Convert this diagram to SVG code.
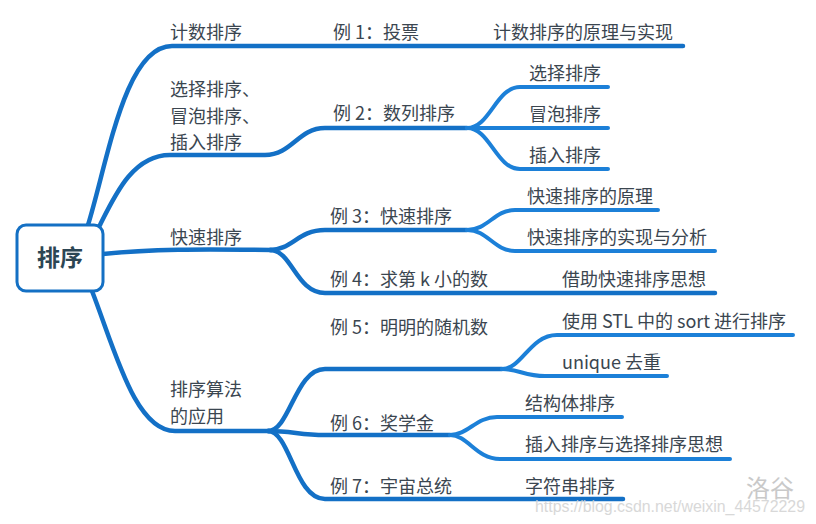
<svg xmlns="http://www.w3.org/2000/svg" width="816" height="524" viewBox="0 0 816 524">
<style>
  .main{fill:none;stroke:#1370c6;stroke-width:4.5;stroke-linecap:round;stroke-linejoin:round}
  .sub{fill:none;stroke:#1c80d8;stroke-width:4;stroke-linecap:round;stroke-linejoin:round}
  .t{font-family:"Noto Sans CJK SC","Noto Sans",sans-serif;font-size:18px;fill:#3b4650}
  .root{font-family:"Noto Sans CJK SC","Noto Sans",sans-serif;font-size:23px;font-weight:bold;fill:#2c4654}
  .wm{font-family:"Noto Sans CJK SC",sans-serif;font-size:24px;fill:#c9c9c9}
  .url{font-family:"Liberation Sans",Arial,sans-serif;font-size:16px;fill:#d2d2d2;opacity:0.85}
</style>
<rect width="816" height="524" fill="#ffffff"/>

<g id="connectors">
  <path class="main" d="M88,225 C108,160 125,46 172,46 L683,46"/>
  <path class="main" d="M100,225 C115,195 133,155 170,155 L265,155 C292,155 298,128 325,128 L467,128"/>
  <path class="main" d="M103,254 C150,249 200,249 272,250"/>
  <path class="main" d="M92,291 C115,350 135,431 175,431 L270,431"/>
  <path class="main" d="M270,250 C292,250 298,230 325,230 L467,230"/>
  <path class="main" d="M270,250 C292,250 296,293 325,293 L715,293"/>
  <path class="main" d="M268,431 C290,431 295,369 325,369 L502,369"/>
  <path class="main" d="M268,431 C292,431 300,435 325,435 L450,435"/>
  <path class="main" d="M268,431 C290,431 295,499 325,499 L623,499"/>
  <path class="sub" d="M467,128 C490,128 496,87 520,87 L608,87"/>
  <path class="sub" d="M467,128 L608,128"/>
  <path class="sub" d="M467,128 C490,128 496,169 520,169 L608,169"/>
  <path class="sub" d="M467,230 C488,230 494,210 515,210 L658,210"/>
  <path class="sub" d="M467,230 C488,230 494,251 515,251 L715,251"/>
  <path class="sub" d="M502,369 C522,369 530,335 557,335 L793,335"/>
  <path class="sub" d="M502,369 C518,369 525,376 545,376 L667,376"/>
  <path class="sub" d="M450,435 C468,435 476,417 497,417 L622,417"/>
  <path class="sub" d="M450,435 C468,435 476,459 500,459 L730,459"/>
</g>

<g id="root">
  <rect x="17" y="225" width="86" height="66" rx="9" fill="#ffffff" stroke="#1470c4" stroke-width="3"/>
  <text class="root" x="60" y="266" text-anchor="middle">排序</text>
</g>

<g id="n-counting"><text class="t" x="170" y="39">计数排序</text></g>
<g id="n-simple">
  <text class="t" x="170" y="96">选择排序、</text>
  <text class="t" x="170" y="123">冒泡排序、</text>
  <text class="t" x="170" y="149">插入排序</text>
</g>
<g id="n-quick"><text class="t" x="170" y="244">快速排序</text></g>
<g id="n-apply">
  <text class="t" x="170" y="396">排序算法</text>
  <text class="t" x="170" y="423">的应用</text>
</g>

<g id="ex1"><text class="t" x="333" y="39">例 1：投票</text></g>
<g id="ex1-a"><text class="t" x="493" y="39">计数排序的原理与实现</text></g>

<g id="ex2"><text class="t" x="333" y="120">例 2：数列排序</text></g>
<g id="ex2-a"><text class="t" x="529" y="80">选择排序</text></g>
<g id="ex2-b"><text class="t" x="529" y="121">冒泡排序</text></g>
<g id="ex2-c"><text class="t" x="529" y="162">插入排序</text></g>

<g id="ex3"><text class="t" x="330" y="223">例 3：快速排序</text></g>
<g id="ex3-a"><text class="t" x="527" y="203">快速排序的原理</text></g>
<g id="ex3-b"><text class="t" x="527" y="244">快速排序的实现与分析</text></g>

<g id="ex4"><text class="t" x="330" y="286">例 4：求第 k 小的数</text></g>
<g id="ex4-a"><text class="t" x="562" y="286">借助快速排序思想</text></g>

<g id="ex5"><text class="t" x="330" y="334">例 5：明明的随机数</text></g>
<g id="ex5-a"><text class="t" x="562" y="328">使用 STL 中的 sort 进行排序</text></g>
<g id="ex5-b"><text class="t" x="562" y="369">unique 去重</text></g>

<g id="ex6"><text class="t" x="330" y="430">例 6：奖学金</text></g>
<g id="ex6-a"><text class="t" x="525" y="410">结构体排序</text></g>
<g id="ex6-b"><text class="t" x="525" y="451">插入排序与选择排序思想</text></g>

<g id="ex7"><text class="t" x="330" y="493">例 7：宇宙总统</text></g>
<g id="ex7-a"><text class="t" x="525" y="493">字符串排序</text></g>

<g id="watermark">
  <text class="wm" x="746" y="497">洛谷</text>
  <text class="url" x="535" y="512" textLength="270" lengthAdjust="spacingAndGlyphs">https://blog.csdn.net/weixin_44572229</text>
</g>
</svg>
